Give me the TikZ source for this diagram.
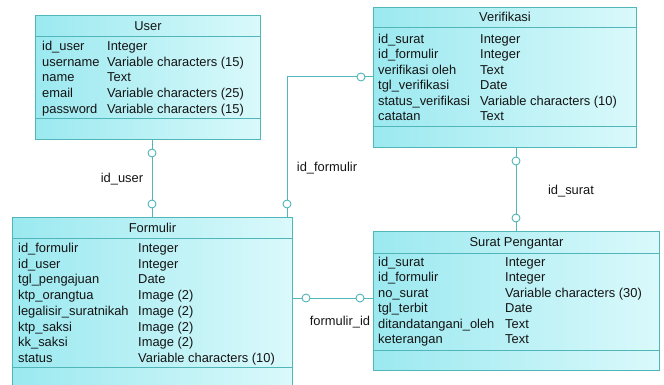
\documentclass[tikz,border=0pt]{standalone}
\usepackage{fontspec}
\setmainfont{Liberation Sans}
\usetikzlibrary{calc}
\definecolor{edgec}{RGB}{80,182,186}
\definecolor{fillA}{RGB}{155,233,240}
\definecolor{fillB}{RGB}{218,249,251}
\definecolor{txtc}{RGB}{20,20,20}
\tikzset{
  entity/.style={draw=edgec, line width=1pt, left color=fillA, right color=fillB, rectangle, inner sep=0pt, anchor=north west},
  conn/.style={draw=edgec, line width=1pt},
  circ/.style={circle, draw=edgec, fill=white, line width=0.9pt, minimum size=8pt, inner sep=0pt},
  attr/.style={anchor=base west, inner sep=0pt, text=txtc, font=\fontsize{12.9}{14}\selectfont},
  ttl/.style={anchor=base, inner sep=0pt, text=txtc, font=\fontsize{12.9}{14}\selectfont},
  lbl/.style={anchor=base, inner sep=0pt, text=txtc, font=\fontsize{12.9}{14}\selectfont}
}
\begin{document}
\begin{tikzpicture}[x=1pt,y=-1pt]
\useasboundingbox (0,0) rectangle (664,385);

% ---------- User ----------
\node[entity, minimum width=225pt, minimum height=124pt] (user) at (35,15) {};
\draw[conn] ($(user.north west)+(0,22)$) -- ($(user.north east)+(0,22)$);
\draw[conn] ($(user.north west)+(0,104)$) -- ($(user.north east)+(0,104)$);
\node[ttl] (userT) at ($(user.north)+(0,15.5)$) {User};
\foreach \n/\t [count=\i] in {id\_user/Integer, username/Variable characters (15), name/Text, email/Variable characters (25), password/Variable characters (15)}{
  \node[attr] (user-a\i) at (42,{50.5+(\i-1)*15.7}) {\n};
  \node[attr] (user-b\i) at (107,{50.5+(\i-1)*15.7}) {\t};
}

% ---------- Verifikasi ----------
\node[entity, minimum width=263pt, minimum height=140pt] (verif) at (373,7) {};
\draw[conn] ($(verif.north west)+(0,21)$) -- ($(verif.north east)+(0,21)$);
\draw[conn] ($(verif.north west)+(0,120)$) -- ($(verif.north east)+(0,120)$);
\node[ttl] (verifT) at ($(verif.north)+(0,15)$) {Verifikasi};
\foreach \n/\t [count=\i] in {id\_surat/Integer, id\_formulir/Integer, verifikasi oleh/Text, tgl\_verifikasi/Date, status\_verifikasi/Variable characters (10), catatan/Text}{
  \node[attr] (verif-a\i) at (378,{43.5+(\i-1)*15.4}) {\n};
  \node[attr] (verif-b\i) at (480,{43.5+(\i-1)*15.4}) {\t};
}

% ---------- Formulir ----------
\node[entity, minimum width=280pt, minimum height=175pt] (formulir) at (12,217) {};
\draw[conn] ($(formulir.north west)+(0,21)$) -- ($(formulir.north east)+(0,21)$);
\draw[conn] ($(formulir.north west)+(0,150)$) -- ($(formulir.north east)+(0,150)$);
\node[ttl] (formulirT) at ($(formulir.north)+(0,15)$) {Formulir};
\foreach \n/\t [count=\i] in {id\_formulir/Integer, id\_user/Integer, tgl\_pengajuan/Date, ktp\_orangtua/Image (2), legalisir\_suratnikah/Image (2), ktp\_saksi/Image (2), kk\_saksi/Image (2), status/Variable characters (10)}{
  \node[attr] (formulir-a\i) at (18,{252.5+(\i-1)*15.7}) {\n};
  \node[attr] (formulir-b\i) at (138,{252.5+(\i-1)*15.7}) {\t};
}

% ---------- Surat Pengantar ----------
\node[entity, minimum width=286pt, minimum height=139pt] (surat) at (373,231) {};
\draw[conn] ($(surat.north west)+(0,22)$) -- ($(surat.north east)+(0,22)$);
\draw[conn] ($(surat.north west)+(0,119)$) -- ($(surat.north east)+(0,119)$);
\node[ttl] (suratT) at ($(surat.north)+(0,15.5)$) {Surat Pengantar};
\foreach \n/\t [count=\i] in {id\_surat/Integer, id\_formulir/Integer, no\_surat/Variable characters (30), tgl\_terbit/Date, ditandatangani\_oleh/Text, keterangan/Text}{
  \node[attr] (surat-a\i) at (378,{266.5+(\i-1)*15.4}) {\n};
  \node[attr] (surat-b\i) at (505,{266.5+(\i-1)*15.4}) {\t};
}

% ---------- Connectors ----------
\coordinate (xuf) at (152,0);
\coordinate (yvf) at (0,77);
\coordinate (xvf) at (287,0);
\coordinate (xvs) at (516,0);
\coordinate (yfs) at (0,298);

% User - Formulir
\draw[conn] (user.south -| xuf) coordinate (uf1) -- (formulir.north -| xuf) coordinate (uf2);
\node[circ] (ufc1) at ($(uf1)!13pt!(uf2)$) {};
\node[circ] (ufc2) at ($(uf2)!13pt!(uf1)$) {};
\node[lbl] (lufl) at (122,182.5) {id\_user};

% Verifikasi - Formulir
\draw[conn] (verif.west |- yvf) coordinate (vf1) -- (xvf |- yvf) coordinate (vfc) -- (formulir.north -| xvf) coordinate (vf2);
\node[circ] (vfc1) at ($(vf1)!12pt!(vfc)$) {};
\node[circ] (vfc2) at ($(vf2)!13pt!(vfc)$) {};
\node[lbl] (lvf) at (327,171.5) {id\_formulir};

% Verifikasi - Surat Pengantar
\draw[conn] (verif.south -| xvs) coordinate (vs1) -- (surat.north -| xvs) coordinate (vs2);
\node[circ] (vsc1) at ($(vs1)!13pt!(vs2)$) {};
\node[circ] (vsc2) at ($(vs2)!13pt!(vs1)$) {};
\node[lbl] (lvs) at (571,194.5) {id\_surat};

% Formulir - Surat Pengantar
\draw[conn] (formulir.east |- yfs) coordinate (fs1) -- (surat.west |- yfs) coordinate (fs2);
\node[circ] (fsc1) at ($(fs1)!13pt!(fs2)$) {};
\node[circ] (fsc2) at ($(fs2)!13pt!(fs1)$) {};
\node[lbl] (lfs) at (340,325.5) {formulir\_id};
\end{tikzpicture}
\end{document}
